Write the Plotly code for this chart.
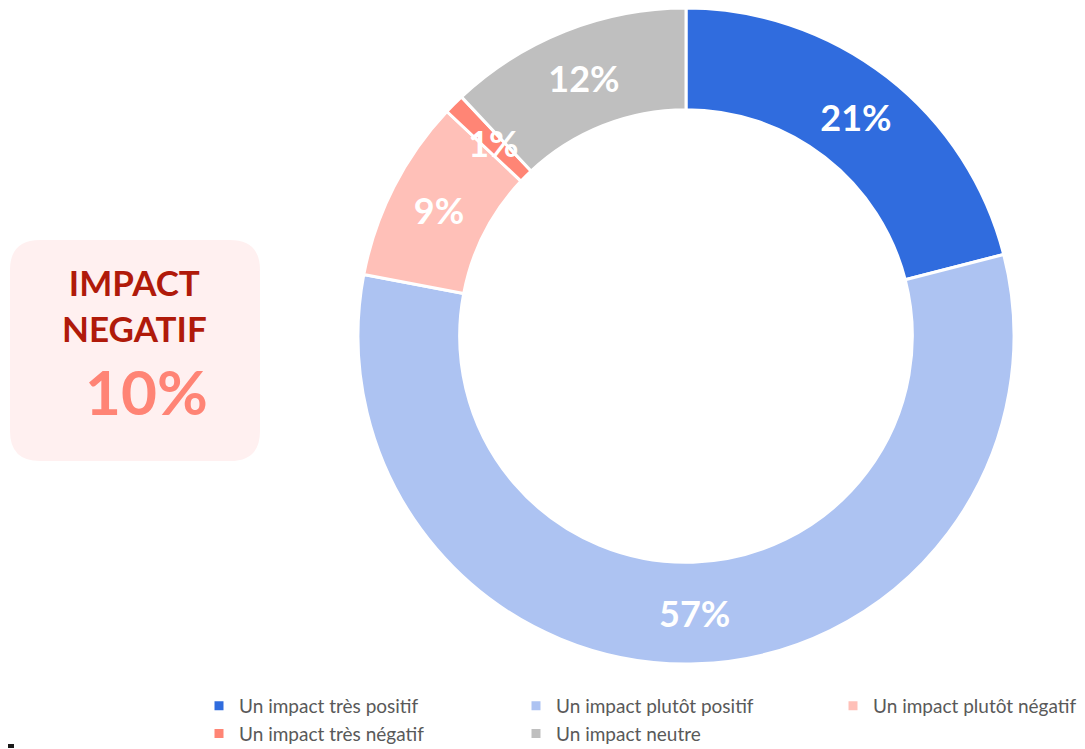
import plotly.graph_objects as go

# données
categories = ["Un impact très positif", "Un impact plutôt positif", "Un impact plutôt négatif",
              "Un impact très négatif", "Un impact neutre"]
values = [21, 57, 9, 1, 12]
colors = ["#306CDE", "#ADC3F2", "#FFC0B8", "#FF8575", "#BFBFBF"]
box_title = "IMPACT<br>NEGATIF"
box_value = "10%"

# la page a une marge de 8px : la figure est décalée d'autant
OFF = 8
W, H = 1085 - OFF, 749 - OFF

def px(x):
    return (x - OFF) / W

def py(y):
    return 1 - (y - OFF) / H

dom = dict(x=[px(358), px(1014)], y=[py(664), py(8)])
dom_small = dict(x=[px(405), px(967)], y=[py(617), py(55)])  # pour les toutes petites parts
small = [v / sum(values) < 0.03 for v in values]
lbl = "%{percent:.0%}"

fig = go.Figure()
fig.add_trace(go.Pie(
    labels=categories,
    values=values,
    marker=dict(colors=colors, line=dict(color="white", width=3)),
    hole=0.69,
    sort=False,
    direction="clockwise",
    rotation=0,
    textinfo="none",
    domain=dom,
    hoverinfo="label+percent",
))
# étiquettes par-dessus toutes les parts
for d, tmpl in [(dom, [("" if s else lbl) for s in small]),
                (dom_small, [(lbl if s else "") for s in small])]:
    fig.add_trace(go.Pie(
        labels=categories,
        values=values,
        marker=dict(colors=["rgba(0,0,0,0)"] * len(values), line=dict(width=0)),
        hole=0.69,
        sort=False,
        direction="clockwise",
        rotation=0,
        texttemplate=tmpl,
        textposition="inside",
        insidetextorientation="horizontal",
        textfont=dict(family="Lato", size=36, color="white", weight="bold"),
        domain=d,
        showlegend=False,
        hoverinfo="skip",
    ))

# encadré arrondi à gauche
x0, x1, y0, y1, r = 10, 260, 240, 461, 30
path = (f"M {px(x0 + r)},{py(y0)} L {px(x1 - r)},{py(y0)} "
        f"Q {px(x1)},{py(y0)} {px(x1)},{py(y0 + r)} L {px(x1)},{py(y1 - r)} "
        f"Q {px(x1)},{py(y1)} {px(x1 - r)},{py(y1)} L {px(x0 + r)},{py(y1)} "
        f"Q {px(x0)},{py(y1)} {px(x0)},{py(y1 - r)} L {px(x0)},{py(y0 + r)} "
        f"Q {px(x0)},{py(y0)} {px(x0 + r)},{py(y0)} Z")
fig.add_shape(type="path", path=path, xref="paper", yref="paper",
              fillcolor="#FFF0F0", line=dict(width=0), layer="below")
fig.add_shape(type="rect", xref="paper", yref="paper",
              x0=px(8), x1=px(14), y0=py(748), y1=py(744),
              fillcolor="#1A1A1A", line=dict(width=0))

fig.add_annotation(x=px(134), y=py(305), xref="paper", yref="paper", text=box_title,
                   showarrow=False, align="center", xanchor="center", yanchor="middle",
                   font=dict(family="Lato", size=35, color="#B01A0A", weight="bold"))
fig.add_annotation(x=px(146), y=py(391), xref="paper", yref="paper", text=box_value,
                   showarrow=False, xanchor="center", yanchor="middle",
                   font=dict(family="Lato", size=62, color="#FF8475", weight="bold"))

fig.update_layout(
    width=W, height=H,
    margin=dict(l=0, r=0, t=0, b=0, autoexpand=False),
    paper_bgcolor="white",
    plot_bgcolor="white",
    uniformtext=dict(minsize=36, mode="show"),
    legend=dict(
        orientation="h",
        x=px(199), y=py(687), xanchor="left", yanchor="top",
        entrywidth=272, entrywidthmode="pixels",
        font=dict(family="Lato", size=19, color="#595959"),
        bgcolor="rgba(0,0,0,0)",
    ),
)

fig.write_html("out.html")
